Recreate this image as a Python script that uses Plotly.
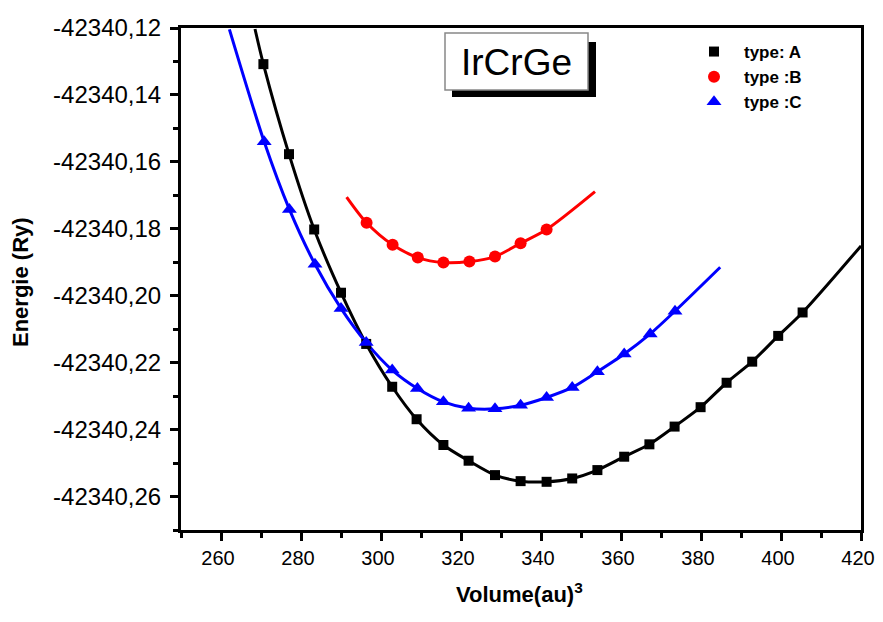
import plotly.graph_objects as go

# ---------------- data ----------------
vol_A = [270.6, 277.0, 283.3, 290.0, 296.3, 302.8, 308.9, 315.6, 321.9, 328.5, 334.9,
         341.4, 347.8, 354.1, 360.8, 367.1, 373.4, 379.9, 386.4, 392.8, 399.3, 405.4]
E_A = [-42340.1308, -42340.1577, -42340.1802, -42340.1991, -42340.2144, -42340.2272,
       -42340.2369, -42340.2446, -42340.2493, -42340.2536, -42340.2554, -42340.2556,
       -42340.2546, -42340.2521, -42340.2481, -42340.2444, -42340.2391, -42340.2333,
       -42340.2260, -42340.2197, -42340.2120, -42340.2050]
fitA_start = (268.5, -42340.1203)
fitA_end = (420.0, -42340.1851)

vol_B = [296.4, 302.9, 309.2, 315.6, 322.1, 328.5, 334.9, 341.4]
E_B = [-42340.1782, -42340.1848, -42340.1886, -42340.1901, -42340.1898,
       -42340.1883, -42340.1843, -42340.1802]
fitB_start = (291.4, -42340.1705)
fitB_end = (353.5, -42340.1689)

vol_C = [270.8, 277.1, 283.5, 290.0, 296.3, 302.8, 309.1, 315.6, 321.9, 328.5, 334.9,
         341.4, 347.8, 354.1, 360.8, 367.3, 373.5]
E_C = [-42340.1540, -42340.1742, -42340.1906, -42340.2038, -42340.2140, -42340.2222,
       -42340.2277, -42340.2317, -42340.2336, -42340.2338, -42340.2327, -42340.2304,
       -42340.2274, -42340.2227, -42340.2174, -42340.2114, -42340.2046]
fitC_start = (262.1, -42340.1204)
fitC_end = (384.8, -42340.1915)

x_ticks = [260, 280, 300, 320, 340, 360, 380, 400, 420]
x_minor = [250, 270, 290, 310, 330, 350, 370, 390, 410]
y_ticks = [-42340.12, -42340.14, -42340.16, -42340.18, -42340.20, -42340.22,
           -42340.24, -42340.26]
y_ticklabels = ["-42340,12", "-42340,14", "-42340,16", "-42340,18", "-42340,20",
                "-42340,22", "-42340,24", "-42340,26"]
y_minor = [-42340.13, -42340.15, -42340.17, -42340.19, -42340.21, -42340.23,
           -42340.25, -42340.27]

series = [
    ("type: A", vol_A, E_A, fitA_start, fitA_end, "black", "square", 10),
    ("type :B", vol_B, E_B, fitB_start, fitB_end, "red", "circle", 12),
    ("type :C", vol_C, E_C, fitC_start, fitC_end, "blue", "triangle-up", 13),
]

FONT = "Liberation Sans, Arial, sans-serif"

fig = go.Figure()
# fitted curves (no legend)
for name, vx, vy, s, e, col, sym, sz in series:
    fig.add_trace(go.Scatter(
        x=[s[0]] + vx + [e[0]], y=[s[1]] + vy + [e[1]],
        mode="lines", line=dict(color=col, width=3, shape="spline", smoothing=0.8),
        showlegend=False, hoverinfo="skip"))
# data points
for name, vx, vy, s, e, col, sym, sz in series:
    fig.add_trace(go.Scatter(
        x=vx, y=vy, mode="markers", name="<b>" + name + "</b>",
        marker=dict(color=col, symbol=sym, size=sz, line=dict(width=0))))

fig.update_xaxes(
    range=[250, 420], tickvals=x_ticks, ticks="outside", ticklen=8, tickwidth=2.5,
    tickcolor="black", showline=True, linecolor="black", linewidth=3, mirror=True,
    showgrid=False, zeroline=False, automargin=False, ticklabeloverflow="allow",
    ticklabelshift=-3,
    tickfont=dict(family=FONT, size=20, color="black"),
    minor=dict(tickvals=x_minor, ticks="outside", ticklen=5, tickwidth=2.5,
               tickcolor="black", showgrid=False))
fig.update_yaxes(
    range=[-42340.27, -42340.12], tickvals=y_ticks, ticktext=y_ticklabels,
    ticks="outside", ticklen=8, tickwidth=2.5, tickcolor="black",
    showline=True, linecolor="black", linewidth=3, mirror=True,
    showgrid=False, zeroline=False, automargin=False, ticklabelstandoff=4,
    ticklabeloverflow="allow",
    tickfont=dict(family=FONT, size=24, color="black"),
    minor=dict(tickvals=y_minor, ticks="outside", ticklen=5, tickwidth=2.5,
               tickcolor="black", showgrid=False))

# page has an 8px body margin; plot area on screen: x 181..861 px, y 28..530 px
def px(xp):
    return (xp - 181) / 680.0

def py(yp):
    return (530 - yp) / 502.0

fig.update_layout(
    width=875, height=600,
    margin=dict(l=173, r=22, t=20, b=78, autoexpand=False),
    paper_bgcolor="white", plot_bgcolor="white",
    showlegend=True,
    legend=dict(x=px(684), y=py(34), xanchor="left", yanchor="top",
                bgcolor="rgba(0,0,0,0)", font=dict(family=FONT, size=17, color="black"),
                itemwidth=50, tracegroupgap=0),
    shapes=[
        dict(type="rect", xref="paper", yref="paper", x0=px(452), x1=px(596),
             y0=py(97), y1=py(42), fillcolor="black", line=dict(width=0)),
        dict(type="rect", xref="paper", yref="paper", x0=px(445), x1=px(588),
             y0=py(90), y1=py(33), fillcolor="white",
             line=dict(color="#888888", width=1.5)),
    ],
    annotations=[
        dict(text="IrCrGe", xref="paper", yref="paper", x=px(516.5), y=py(62),
             xanchor="center", yanchor="middle", showarrow=False,
             font=dict(family=FONT, size=37, color="black")),
        dict(text="<b>Energie (Ry)</b>", xref="paper", yref="paper", x=px(20), y=py(282),
             xanchor="center", yanchor="middle", showarrow=False, textangle=-90,
             font=dict(family=FONT, size=22, color="black")),
        dict(text="<b>Volume(au)<sup>3</sup></b>", xref="paper", yref="paper",
             x=px(519), y=py(593), xanchor="center", yanchor="middle", showarrow=False,
             font=dict(family=FONT, size=22, color="black")),
    ],
)

fig.write_html("out.html")
